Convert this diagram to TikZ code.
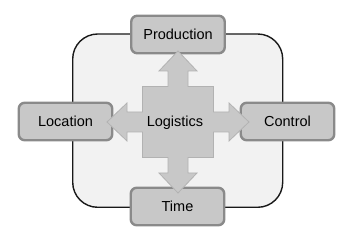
\documentclass[tikz,border=0pt]{standalone}
\usepackage{fontspec}
\setmainfont{Liberation Sans}
\usetikzlibrary{positioning}
\definecolor{boxgray}{HTML}{C8C8C8}
\definecolor{edgegray}{HTML}{8A8A8A}
\definecolor{panelgray}{HTML}{F2F2F2}
\tikzset{
  box/.style={draw=edgegray, fill=boxgray, line width=2.4pt, rounded corners=6pt, minimum width=93.5pt, minimum height=37.5pt, inner sep=0pt, font=\fontsize{14.5}{17}\selectfont},
  panel/.style={draw=black!90, fill=panelgray, line width=1.4pt, rounded corners=25pt},
  cross/.style={draw=black!30, fill=boxgray, line width=0.8pt, line join=miter},
  lbl/.style={inner sep=0pt, font=\fontsize{14.5}{17}\selectfont}
}

\begin{document}
\begin{tikzpicture}[x=1pt, y=-1pt]
\useasboundingbox (0,0) rectangle (351,237);
\draw[panel] (72.7,34) rectangle (282.7,207.3);
% the four outer boxes
\node[box] (production) at (178,34.5) {Production};
\node[box] (location) at (65.5,121.5) {Location};
\node[box] (control) at (287.5,121.5) {Control};
\node[box] (time) at (177.5,206.5) {Time};
% hub with the four arrows
\coordinate (hub) at (178,122);
\begin{scope}[shift={(hub)}]
\draw[cross] (0,-71) -- (19,-51) -- (10,-51) -- (10,-35.5) -- (35.5,-35.5) -- (35.5,-10)
  -- (51,-10) -- (51,-19) -- (71,0) -- (51,19) -- (51,10) -- (35.5,10) -- (35.5,35.5)
  -- (10,35.5) -- (10,51) -- (19,51) -- (0,71) -- (-19,51) -- (-10,51) -- (-10,35.5)
  -- (-35.5,35.5) -- (-35.5,10) -- (-51,10) -- (-51,19) -- (-71,0) -- (-51,-19)
  -- (-51,-10) -- (-35.5,-10) -- (-35.5,-35.5) -- (-10,-35.5) -- (-10,-51) -- (-19,-51) -- cycle;
\end{scope}
\node[lbl] (logistics) at (175,122.5) {Logistics};
\end{tikzpicture}
\end{document}
